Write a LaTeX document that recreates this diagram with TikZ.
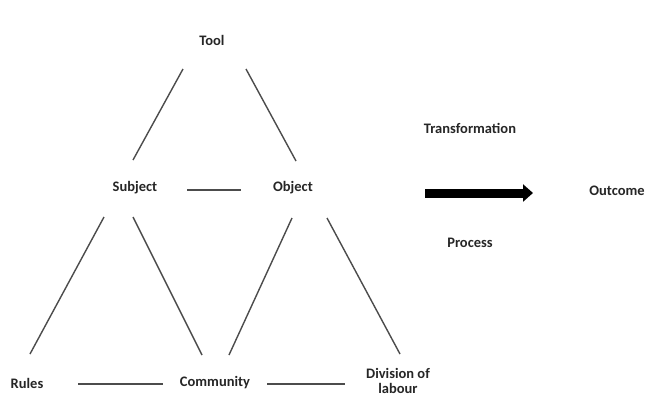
\documentclass[tikz,border=0pt]{standalone}
\usepackage{fontspec}
\setmainfont{Carlito}
\usetikzlibrary{arrows.meta}
\begin{document}
\begin{tikzpicture}[x=1pt,y=-1pt,
  lbl/.style={font=\bfseries\fontsize{14.5}{14.5}\selectfont, text=black!85, inner sep=0pt, align=center},
  edge/.style={draw=black!70, line width=1.4pt}]
\useasboundingbox (0,0) rectangle (646,397);
\fill[white] (0,0) rectangle (646,397);

% labels
\node[lbl] (tool) at (212,40) {Tool};
\node[lbl] (trans) at (470,128) {Transformation};
\node[lbl] (subj) at (135,188) {Subject};
\node[lbl] (obj) at (293,188) {Object};
\node[lbl] (out) at (617,191) {Outcome};
\node[lbl] (proc) at (470,243) {Process};
\node[lbl] (rules) at (27,383) {Rules};
\node[lbl] (comm) at (215,383) {Community};
\node[lbl] (div) at (398,381) {Division of\\labour};

% connector ends
\coordinate (t1) at (183,69);  \coordinate (s1) at (133,160);
\coordinate (t2) at (246,69);  \coordinate (o1) at (296,161);
\coordinate (s2) at (187,190); \coordinate (o2) at (241,190);
\coordinate (s3) at (104,217); \coordinate (r1) at (30,354);
\coordinate (s4) at (133,217); \coordinate (c1) at (202,355);
\coordinate (o3) at (292,218); \coordinate (c2) at (229,355);
\coordinate (o4) at (327,218); \coordinate (d1) at (400,354);
\coordinate (r2) at (78,384);  \coordinate (c3) at (163,384);
\coordinate (c4) at (267,384); \coordinate (d2) at (345,384);

\path[edge] (t1) -- (s1);
\path[edge] (t2) -- (o1);
\path[edge] (s2) -- (o2);
\path[edge] (s3) -- (r1);
\path[edge] (s4) -- (c1);
\path[edge] (o3) -- (c2);
\path[edge] (o4) -- (d1);
\path[edge] (r2) -- (c3);
\path[edge] (c4) -- (d2);

% process arrow
\coordinate (a1) at (425,193);
\coordinate (a2) at (533,193);
\draw[line width=9pt, black, -{Triangle[length=10pt,width=17pt]}] (a1) -- (a2);
\end{tikzpicture}
\end{document}
